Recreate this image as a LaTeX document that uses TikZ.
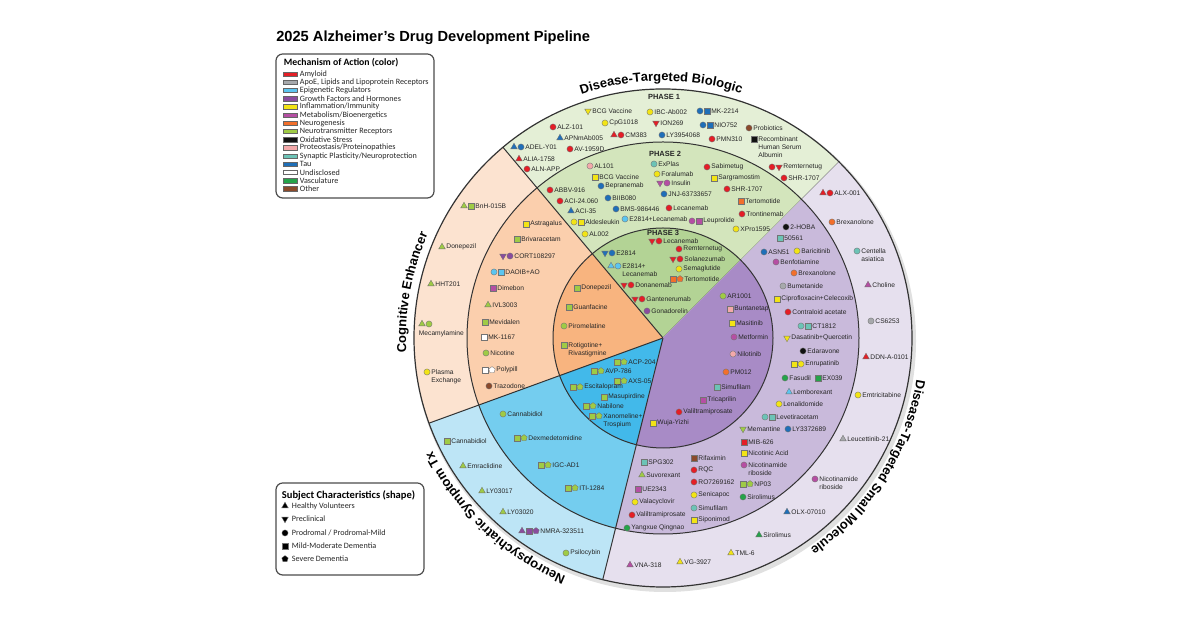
\documentclass[tikz,border=0pt]{standalone}
\usepackage{fontspec}
\setmainfont{Liberation Sans}
\newfontfamily\legfont{Carlito}
\usetikzlibrary{decorations.text}

% mechanism colours
\definecolor{amy}{HTML}{E41E26}
\definecolor{apoe}{HTML}{A7A9AC}
\definecolor{epi}{HTML}{5BC5F0}
\definecolor{gro}{HTML}{8A4C9E}
\definecolor{inf}{HTML}{F2E415}
\definecolor{met}{HTML}{B54FA3}
\definecolor{neu}{HTML}{F26F2B}
\definecolor{ntr}{HTML}{9FCB45}
\definecolor{oxi}{HTML}{111111}
\definecolor{pro}{HTML}{F3A9AA}
\definecolor{syn}{HTML}{6CC3B6}
\definecolor{tau}{HTML}{1F6FB8}
\definecolor{und}{HTML}{FFFFFF}
\definecolor{vas}{HTML}{25A34A}
\definecolor{oth}{HTML}{8B4A2B}
% ring colours
\definecolor{gO}{HTML}{E4EFD6}\definecolor{gM}{HTML}{D3E5BC}\definecolor{gI}{HTML}{B3D395}
\definecolor{oO}{HTML}{FCE3D0}\definecolor{oM}{HTML}{FBCFAD}\definecolor{oI}{HTML}{F8B47F}
\definecolor{bO}{HTML}{BDE5F6}\definecolor{bM}{HTML}{74CDEF}\definecolor{bI}{HTML}{42B9EA}
\definecolor{pO}{HTML}{E6E0EE}\definecolor{pM}{HTML}{C9BADB}\definecolor{pI}{HTML}{A88BC6}

\tikzset{
  ring/.style={draw=black!80, line width=0.75pt},
  mk/.style={draw=black!55, line width=0.25pt},
  lbl/.style={anchor=west, inner sep=0.5pt, text=black!85, font=\fontsize{5}{6}\selectfont},
  multi/.style={anchor=north west, align=left, yshift=2.3pt},
  phase/.style={inner sep=0.5pt, text=black!85, font=\bfseries\fontsize{5.6}{6}\selectfont},
  legbox/.style={draw=black!70, line width=0.9pt, rounded corners=5pt, fill=white},
  legtxt/.style={anchor=west, inner sep=0.5pt, text=black!85, font=\legfont\fontsize{6.1}{7}\selectfont},
  legtitle/.style={anchor=west, inner sep=0.5pt, font=\legfont\bfseries\fontsize{7.3}{8}\selectfont},
  swatch/.style={draw=black!60, line width=0.3pt},
}
\newcommand\curvfont{\bfseries\fontsize{9.7}{11}\selectfont}

% markers, placed from image coordinates (y downwards)
\newcount\mkn
\newcounter{drugc}
\newcommand\mkx{0}\newcommand\mky{0}
\newcommand\mkrow[3]{\def\mkx{#1}\def\mky{#2}\mkn=0 #3}
\newcommand\mC[1]{\path[mk,fill=#1,shift={({\mkx+7*\the\mkn},{627-\mky})}] (0,0) circle[radius=3.1];\advance\mkn by 1\relax}
\newcommand\mS[1]{\path[mk,fill=#1,shift={({\mkx+7*\the\mkn},{627-\mky})}] (-2.8,-2.8) rectangle (2.8,2.8);\advance\mkn by 1\relax}
\newcommand\mT[1]{\path[mk,fill=#1,shift={({\mkx+7*\the\mkn},{627-\mky})}] (90:3.8)--(210:3.8)--(330:3.8)--cycle;\advance\mkn by 1\relax}
\newcommand\mV[1]{\path[mk,fill=#1,shift={({\mkx+7*\the\mkn},{627-\mky})}] (270:3.8)--(30:3.8)--(150:3.8)--cycle;\advance\mkn by 1\relax}
\newcommand\mP[1]{\path[mk,fill=#1,shift={({\mkx+7*\the\mkn},{627-\mky})}] (90:3.4)--(162:3.4)--(234:3.4)--(306:3.4)--(18:3.4)--cycle;\advance\mkn by 1\relax}
\newcommand\drug[5][]{\mkrow{#2}{#3}{#4}\stepcounter{drugc}%
  \node[lbl,#1] (drug-\arabic{drugc}) at ({#2+7*\the\mkn-3.5},{627-#3}) {#5};}

\begin{document}
\begin{tikzpicture}[x=0.75pt,y=0.75pt]
\useasboundingbox[fill=white] (0,0) rectangle (1200,627);

% title
\node[anchor=west, inner sep=0pt, font=\bfseries\fontsize{11}{13}\selectfont] (title) at (276,589) {2025 Alzheimer’s Drug Development Pipeline};

% rings and sectors
\fill[black!12] (665,286) circle[radius=251];
\foreach \a/\b/\co/\cm/\ci in {45/130/gO/gM/gI,130/200/oO/oM/oI,200/256/bO/bM/bI,256/405/pO/pM/pI}{
  \fill[\co] (663,289) -- ++(\a:249) arc[start angle=\a, end angle=\b, radius=249] -- cycle;
  \fill[\cm] (663,289) -- ++(\a:196) arc[start angle=\a, end angle=\b, radius=196] -- cycle;
  \fill[\ci] (663,289) -- ++(\a:110) arc[start angle=\a, end angle=\b, radius=110] -- cycle;
  \draw[ring] (663,289) -- ++(\a:249);
}
\draw[ring] (663,289) circle[radius=110] (663,289) circle[radius=196];
\draw[ring, line width=0.9pt] (663,289) circle[radius=249];

% curved category names
\path[decorate, decoration={text along path, text align=center, text={|\curvfont|Disease-Targeted Biologic}}, shift={(663,289)}] (125.4:257) arc[start angle=125.4, end angle=55.4, radius=257];
\path[decorate, decoration={text along path, text align=center, text={|\curvfont|Cognitive Enhancer}}, shift={(663,289)}] (204.7:257) arc[start angle=204.7, end angle=134.7, radius=257];
\path[decorate, decoration={text along path, text align=center, text={|\curvfont|Disease-Targeted Small Molecule}}, shift={(663,289)}] (6.3:257) arc[start angle=6.3, end angle=-70.7, radius=257];
\path[decorate, decoration={text along path, text align=center, text={|\curvfont|Neuropsychiatric Symptom Tx}}, shift={(663,289)}] (262:257) arc[start angle=262, end angle=192, radius=257];

\node[phase] (ph1) at (664,530) {PHASE 1};
\node[phase] (ph2) at (665,473) {PHASE 2};
\node[phase] (ph3) at (663,394) {PHASE 3};

% biologic, phase 1
\drug{588}{111}{\mV{inf}}{BCG Vaccine}
\drug{650}{112}{\mC{inf}}{IBC-Ab002}
\drug{700}{111}{\mC{tau}\mS{tau}}{MK-2214}
\drug{605}{123}{\mC{inf}}{CpG1018}
\drug{656}{123}{\mV{amy}}{ION269}
\drug{703}{125}{\mC{tau}\mS{tau}}{NIO752}
\drug{749}{128}{\mC{oth}}{Probiotics}
\drug{553}{127}{\mC{amy}}{ALZ-101}
\drug{560}{138}{\mT{tau}}{APNmAb005}
\drug{614}{135}{\mT{amy}\mC{amy}}{CM383}
\drug{662}{135}{\mC{tau}}{LY3954068}
\drug{712}{139}{\mC{amy}}{PMN310}
\drug[multi]{754}{139}{\mS{oxi}}{Recombinant\\Human Serum\\Albumin}
\drug{514}{147}{\mT{tau}\mC{tau}}{ADEL-Y01}
\drug{570}{149}{\mC{amy}}{AV-1959D}
\drug{519}{159}{\mT{amy}}{ALIA-1758}
\drug{527}{169}{\mC{amy}}{ALN-APP}
\drug{772}{167}{\mC{amy}\mV{amy}}{Remternetug}
\drug{784}{178}{\mC{amy}}{SHR-1707}

% biologic, phase 2
\drug{590}{166}{\mC{pro}}{AL101}
\drug{654}{164}{\mC{syn}}{ExPlas}
\drug{595}{177}{\mS{inf}}{BCG Vaccine}
\drug{657}{174}{\mC{inf}}{Foralumab}
\drug{601}{186}{\mC{tau}}{Bepranemab}
\drug{660}{183}{\mV{met}\mC{met}}{Insulin}
\drug{550}{190}{\mC{amy}}{ABBV-916}
\drug{608}{198}{\mC{tau}}{BIIB080}
\drug{664}{194}{\mC{tau}}{JNJ-63733657}
\drug{560}{201}{\mC{amy}}{ACI-24.060}
\drug{616}{209}{\mC{tau}}{BMS-986446}
\drug{669}{208}{\mC{amy}}{Lecanemab}
\drug{571}{211}{\mT{tau}}{ACI-35}
\drug{625}{219}{\mC{epi}}{E2814+Lecanemab}
\drug{692}{221}{\mC{met}\mS{met}}{Leuprolide}
\drug{574}{222}{\mC{inf}\mS{inf}}{Aldesleukin}
\drug{585}{234}{\mC{inf}}{AL002}
\drug{707}{167}{\mC{amy}}{Sabimetug}
\drug{714}{178}{\mS{inf}}{Sargramostim}
\drug{727}{189}{\mC{amy}}{SHR-1707}
\drug{741}{201}{\mS{neu}}{Tertomotide}
\drug{742}{214}{\mC{amy}}{Trontinemab}
\drug{736}{229}{\mC{inf}}{XPro1595}

% biologic, phase 3
\drug{652}{241}{\mV{amy}\mC{amy}}{Lecanemab}
\drug{679}{249}{\mC{amy}}{Remternetug}
\drug{605}{253}{\mV{tau}\mC{tau}}{E2814}
\drug{673}{259}{\mV{amy}\mC{amy}}{Solanezumab}
\drug[multi]{611}{266}{\mT{epi}\mC{epi}}{E2814+\\Lecanemab}
\drug{679}{269}{\mC{inf}}{Semaglutide}
\drug{673}{279}{\mS{neu}\mP{neu}}{Tertomotide}
\drug{624}{285}{\mV{amy}\mC{amy}}{Donanemab}
\drug{635}{299}{\mV{amy}\mC{amy}}{Gantenerumab}
\drug{647}{311}{\mC{gro}}{Gonadorelin}

% cognitive enhancer
\drug{577}{288}{\mS{ntr}}{Donepezil}
\drug{569}{307}{\mS{ntr}}{Guanfacine}
\drug{564}{326}{\mC{ntr}}{Piromelatine}
\drug[multi]{564}{345}{\mS{ntr}}{Rotigotine+\\Rivastigmine}
\drug{526}{224}{\mS{inf}}{Astragalus}
\drug{517}{239}{\mS{ntr}}{Brivaracetam}
\drug{503}{256}{\mV{gro}\mC{gro}}{CORT108297}
\drug{494}{272}{\mC{epi}\mS{epi}}{DAOIB+AO}
\drug{493}{288}{\mS{met}}{Dimebon}
\drug{488}{305}{\mT{ntr}}{IVL3003}
\drug{485}{322}{\mS{ntr}}{Mevidalen}
\drug{484}{337}{\mS{und}}{MK-1167}
\drug{486}{353}{\mC{ntr}}{Nicotine}
\drug{485}{370}{\mS{und}\mP{und}}{Polypill}
\drug{489}{386}{\mC{oth}}{Trazodone}
\drug{464}{206}{\mT{ntr}\mS{ntr}}{BnH-015B}
\drug{442}{247}{\mT{ntr}}{Donepezil}
\drug{431}{284}{\mT{ntr}}{HHT201}
\mkrow{422}{324}{\mT{ntr}\mC{ntr}}
\node[lbl] (mecam) at (418,293) {Mecamylamine};
\drug[multi]{427}{372}{\mC{inf}}{Plasma\\Exchange}

% neuropsychiatric symptom tx
\drug{617}{362}{\mS{ntr}\mP{ntr}}{ACP-204}
\drug{594}{371}{\mS{ntr}\mP{ntr}}{AVP-786}
\drug{617}{381}{\mS{ntr}\mP{ntr}}{AXS-05}
\drug{573}{387}{\mS{ntr}\mP{ntr}}{Escitalopram}
\drug{604}{397}{\mS{ntr}}{Masupirdine}
\drug{586}{406}{\mS{ntr}\mP{ntr}}{Nabilone}
\drug[multi]{592}{416}{\mS{ntr}\mP{ntr}}{Xanomeline+\\Trospium}
\drug{503}{414}{\mC{ntr}}{Cannabidiol}
\drug{517}{438}{\mS{ntr}\mP{ntr}}{Dexmedetomidine}
\drug{541}{465}{\mS{ntr}\mP{ntr}}{IGC-AD1}
\drug{568}{488}{\mS{ntr}\mP{ntr}}{ITI-1284}
\drug{447}{441}{\mS{ntr}}{Cannabidiol}
\drug{463}{466}{\mT{ntr}}{Emraclidine}
\drug{482}{491}{\mT{ntr}}{LY03017}
\drug{503}{512}{\mT{ntr}}{LY03020}
\drug{522}{531}{\mT{gro}\mS{gro}\mP{gro}}{NMRA-323511}
\drug{566}{553}{\mC{ntr}}{Psilocybin}

% small molecule, inner
\drug{723}{296}{\mC{ntr}}{AR1001}
\drug{730}{309}{\mS{pro}}{Buntanetap}
\drug{732}{323}{\mS{inf}}{Masitinib}
\drug{734}{337}{\mC{met}}{Metformin}
\drug{733}{354}{\mC{pro}}{Nilotinib}
\drug{726}{372}{\mC{neu}}{PM012}
\drug{717}{387}{\mS{syn}}{Simufilam}
\drug{703}{400}{\mS{met}}{Tricaprilin}
\drug{679}{412}{\mC{amy}}{Valiltramiprosate}
\drug{653}{423}{\mS{inf}}{Wuja-Yizhi}

% small molecule, middle
\drug{786}{227}{\mC{oxi}}{2-HOBA}
\drug{780}{238}{\mS{syn}}{50561}
\drug{764}{252}{\mC{tau}}{ASN51}
\drug{797}{251}{\mC{inf}}{Baricitinib}
\drug{776}{262}{\mC{met}}{Benfotiamine}
\drug{794}{273}{\mC{neu}}{Brexanolone}
\drug{783}{286}{\mC{apoe}}{Bumetanide}
\drug{777}{299}{\mS{inf}}{Ciprofloxacin+Celecoxib}
\drug{788}{312}{\mC{amy}}{Contraloid acetate}
\drug{801}{326}{\mC{syn}\mS{syn}}{CT1812}
\drug{787}{338}{\mV{inf}}{Dasatinib+Quercetin}
\drug{803}{351}{\mC{oxi}}{Edaravone}
\drug{794}{364}{\mS{inf}\mC{inf}}{Enrupatinib}
\drug{785}{378}{\mC{vas}}{Fasudil}
\drug{818}{378}{\mS{vas}}{EX039}
\drug{789}{392}{\mT{epi}}{Lemborexant}
\drug{779}{404}{\mC{inf}}{Lenalidomide}
\drug{765}{417}{\mC{syn}\mS{syn}}{Levetiracetam}
\drug{743}{429}{\mV{ntr}}{Memantine}
\drug{788}{429}{\mC{tau}}{LY3372689}
\drug{744}{442}{\mS{amy}}{MIB-626}
\drug{744}{453}{\mS{inf}}{Nicotinic Acid}
\drug[multi]{744}{465}{\mC{met}}{Nicotinamide\\riboside}
\drug{743}{484}{\mS{ntr}\mP{ntr}}{NP03}
\drug{743}{497}{\mC{vas}}{Sirolimus}
\drug{644}{462}{\mS{syn}}{SPG302}
\drug{642}{475}{\mT{ntr}}{Suvorexant}
\drug{638}{489}{\mS{met}}{UE2343}
\drug{635}{502}{\mC{inf}}{Valacyclovir}
\drug{632}{515}{\mC{amy}}{Valiltramiprosate}
\drug{627}{528}{\mC{vas}}{Yangxue Qingnao}
\drug{694}{458}{\mS{oth}}{Rifaximin}
\drug{694}{470}{\mC{amy}}{RQC}
\drug{694}{482}{\mC{amy}}{RO7269162}
\drug{694}{495}{\mC{inf}}{Senicapoc}
\drug{694}{508}{\mC{syn}}{Simufilam}
\drug{694}{520}{\mS{inf}}{Siponimod}

% small molecule, outer
\drug{823}{193}{\mT{amy}\mC{amy}}{ALX-001}
\drug{832}{222}{\mC{neu}}{Brexanolone}
\drug[multi]{857}{251}{\mC{syn}}{Centella\\asiatica}
\drug{868}{285}{\mT{met}}{Choline}
\drug{871}{321}{\mC{apoe}}{CS6253}
\drug{866}{357}{\mT{amy}}{DDN-A-0101}
\drug{858}{395}{\mC{inf}}{Emtricitabine}
\drug{843}{439}{\mT{apoe}}{Leucettinib-21}
\drug[multi]{815}{479}{\mC{met}}{Nicotinamide\\riboside}
\drug{787}{512}{\mT{tau}}{OLX-07010}
\drug{759}{535}{\mT{vas}}{Sirolimus}
\drug{731}{553}{\mT{inf}}{TML-6}
\drug{680}{562}{\mT{inf}}{VG-3927}
\drug{630}{565}{\mT{met}}{VNA-318}

% legend: mechanism of action
\draw[legbox] (276,573) rectangle (434,429);
\node[legtitle] (moa) at (283,564) {Mechanism of Action (color)};
\foreach \co/\tx [count=\i from 0] in {amy/Amyloid, apoe/{ApoE, Lipids and Lipoprotein Receptors}, epi/Epigenetic Regulators, gro/Growth Factors and Hormones, inf/{Inflammation/Immunity}, met/{Metabolism/Bioenergetics}, neu/Neurogenesis, ntr/Neurotransmitter Receptors, oxi/Oxidative Stress, pro/{Proteostasis/Proteinopathies}, syn/{Synaptic Plasticity/Neuroprotection}, tau/Tau, und/Undisclosed, vas/Vasculature, oth/Other}{
  \path[swatch, fill=\co] (283,{553-8.2*\i-2.2}) rectangle (297,{553-8.2*\i+2.2});
  \node[legtxt] (moa-\i) at (299,{553-8.2*\i}) {\tx};
}

% legend: subject characteristics
\draw[legbox] (276,144) rectangle (424,52);
\node[legtitle, font=\legfont\bfseries\fontsize{7.9}{9}\selectfont] (subj) at (281,132) {Subject Characteristics (shape)};
\mkrow{285}{506}{\mT{black}}
\mkrow{285}{519}{\mV{black}}
\mkrow{285}{533}{\mC{black}}
\mkrow{285}{546}{\mS{black}}
\mkrow{285}{559}{\mP{black}}
\node[legtxt] (subj-1) at (291,121) {Healthy Volunteers};
\node[legtxt] (subj-2) at (291,108) {Preclinical};
\node[legtxt] (subj-3) at (291,94) {Prodromal / Prodromal-Mild};
\node[legtxt] (subj-4) at (291,81) {Mild-Moderate Dementia};
\node[legtxt] (subj-5) at (291,68) {Severe Dementia};
\end{tikzpicture}
\end{document}
